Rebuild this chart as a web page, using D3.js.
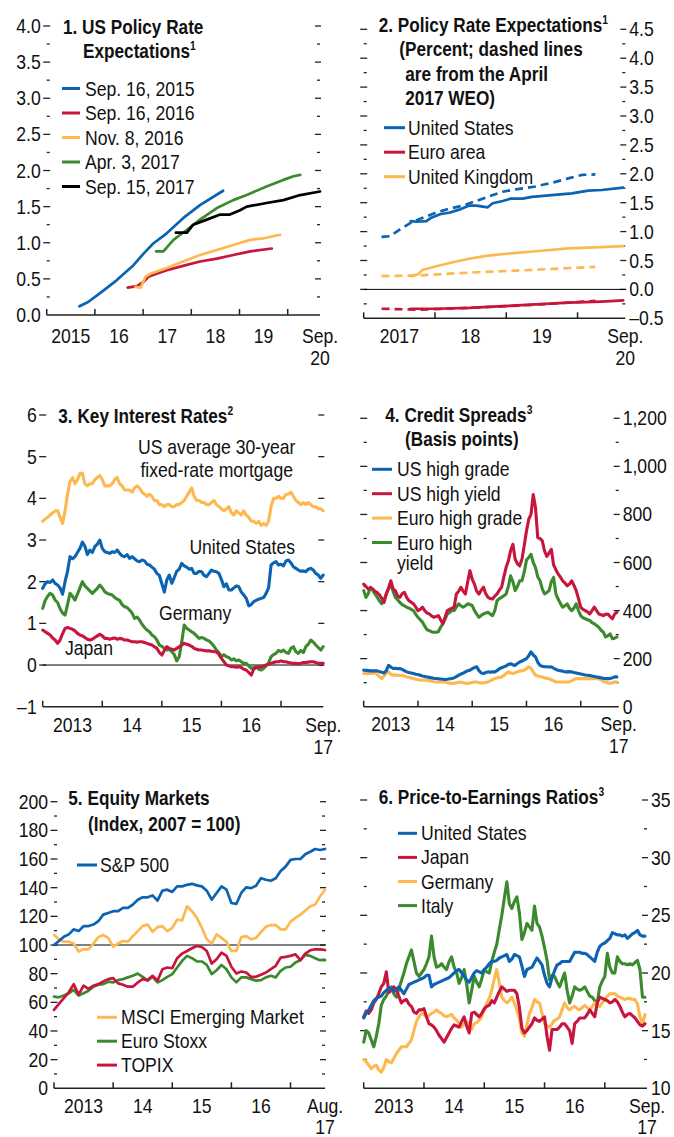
<!DOCTYPE html>
<html><head><meta charset="utf-8">
<script src="https://cdn.jsdelivr.net/npm/d3@7"></script>
<style>
body{margin:0;background:#fff;}
svg text{font-family:"Liberation Sans",Arial,sans-serif;font-size:20px;fill:#111;}
svg text.t{font-weight:bold;font-size:20px;}
</style></head><body>
<svg id="c" width="674" height="1137"></svg>
<script>
// ---------------- DATA ----------------
// Panel 1: US policy rate expectations, [year, percent]
const p1Sep2015 = [[2015.68,0.12],[2015.86,0.18],[2016.10,0.30],[2016.45,0.48],[2016.80,0.69],[2017.01,0.85],[2017.21,0.99],[2017.49,1.13],[2017.83,1.34],[2018.18,1.52],[2018.66,1.72]];
const p1Sep2016 = [[2016.68,0.38],[2016.87,0.40],[2017.01,0.46],[2017.11,0.53],[2017.28,0.57],[2017.49,0.62],[2017.83,0.68],[2018.18,0.74],[2018.53,0.78],[2018.87,0.83],[2019.22,0.88],[2019.67,0.92]];
const p1Nov2016 = [[2016.84,0.39],[2016.95,0.38],[2017.05,0.53],[2017.15,0.57],[2017.49,0.65],[2017.83,0.74],[2018.18,0.83],[2018.53,0.90],[2018.87,0.97],[2019.22,1.04],[2019.49,1.06],[2019.84,1.11]];
const p1Apr2017 = [[2017.27,0.88],[2017.42,0.88],[2017.63,1.04],[2017.91,1.18],[2018.18,1.32],[2018.53,1.48],[2018.87,1.59],[2019.15,1.66],[2019.56,1.78],[2019.91,1.87],[2020.12,1.92],[2020.26,1.94]];
const p1Sep2017 = [[2017.68,1.14],[2017.91,1.14],[2018.04,1.25],[2018.32,1.32],[2018.60,1.39],[2018.80,1.39],[2019.01,1.45],[2019.15,1.50],[2019.56,1.55],[2019.91,1.59],[2020.26,1.66],[2020.67,1.71]];
const p1Legend = ["Sep. 16, 2015","Sep. 16, 2016","Nov. 8, 2016","Apr. 3, 2017","Sep. 15, 2017"];
const p1YTicks = [0,0.5,1,1.5,2,2.5,3,3.5,4];

// Panel 2: policy rate expectations (solid = Sep 2017, dashed = April 2017 WEO)
const p2US = [[2017.66,1.18],[2017.74,1.17],[2017.88,1.18],[2017.95,1.24],[2018.07,1.30],[2018.21,1.33],[2018.34,1.38],[2018.48,1.45],[2018.58,1.45],[2018.74,1.42],[2018.81,1.49],[2018.95,1.53],[2019.06,1.57],[2019.23,1.57],[2019.36,1.60],[2019.64,1.63],[2019.92,1.66],[2020.15,1.71],[2020.34,1.72],[2020.64,1.76]];
const p2USdash = [[2017.25,0.91],[2017.37,0.92],[2017.51,1.04],[2017.67,1.16],[2017.83,1.24],[2018.02,1.33],[2018.21,1.40],[2018.39,1.45],[2018.58,1.53],[2018.76,1.61],[2018.95,1.69],[2019.13,1.73],[2019.41,1.78],[2019.69,1.86],[2019.87,1.92],[2020.06,1.98],[2020.25,1.99]];
const p2UK = [[2017.66,0.23],[2017.76,0.26],[2017.83,0.34],[2018.02,0.40],[2018.25,0.47],[2018.48,0.53],[2018.72,0.58],[2018.95,0.61],[2019.41,0.66],[2019.87,0.71],[2020.34,0.73],[2020.64,0.75]];
const p2UKdash = [[2017.25,0.23],[2017.74,0.24],[2018.48,0.29],[2019.41,0.34],[2020.25,0.39]];
const p2EA = [[2017.66,-0.335],[2018.02,-0.335],[2018.48,-0.32],[2018.95,-0.29],[2019.41,-0.26],[2019.87,-0.23],[2020.34,-0.21],[2020.64,-0.19]];
const p2EAdash = [[2017.25,-0.335],[2017.78,-0.35],[2018.48,-0.32],[2019.18,-0.28],[2019.87,-0.23],[2020.25,-0.2]];
const p2Legend = ["United States","Euro area","United Kingdom"];
const p2YTicks = [-0.5,0,0.5,1,1.5,2,2.5,3,3.5,4,4.5];

// Panel 3: key interest rates, semi-monthly from Jan 2013 (percent)
const p3Mortgage = [3.45,3.5,3.55,3.6,3.65,3.7,3.7,3.55,3.4,3.7, 4.1,4.4,4.5,4.35,4.45,4.6,4.6,4.35,4.3,4.35, 4.35,4.45,4.5,4.55,4.45,4.3,4.3,4.3,4.35,4.45, 4.5,4.35,4.3,4.2,4.2,4.2,4.15,4.25,4.3,4.25, 4.15,4.1,4.05,4.1,4.05,3.95,3.95,3.85,3.85,3.8, 3.85,3.85,3.8,3.8,3.85,3.85,3.9,3.95,4.05,4.15, 4.25,4.05,3.95,3.95,3.9,3.9,3.85,3.85,3.9,3.95, 3.85,3.8,3.75,3.7,3.75,3.8,3.65,3.6,3.7,3.65, 3.6,3.7,3.6,3.55,3.45,3.45,3.4,3.45,3.35,3.4, 3.35,3.45,3.8,4.0,4.0,4.05,4.0,4.0,4.1,4.1, 4.15,4.05,3.95,3.9,3.85,3.9,3.85,3.9,3.85,3.8, 3.8,3.75,3.75,3.7];
const p3US = [1.84,1.95,2.0,1.98,2.04,1.96,1.92,1.85,1.7,2.0, 2.25,2.6,2.55,2.6,2.7,2.8,2.95,2.85,2.65,2.76, 2.7,2.84,2.9,3.0,2.8,2.72,2.7,2.68,2.72,2.7, 2.76,2.68,2.62,2.6,2.65,2.56,2.6,2.55,2.5,2.48, 2.52,2.5,2.42,2.4,2.35,2.3,2.2,2.15,1.95,1.75, 2.04,2.16,1.96,2.1,2.25,2.3,2.44,2.38,2.35,2.3, 2.32,2.2,2.2,2.25,2.24,2.15,2.12,2.2,2.28,2.25, 2.24,2.2,2.05,1.88,1.95,1.8,1.8,1.85,1.9,1.88, 1.75,1.68,1.6,1.42,1.45,1.52,1.55,1.58,1.6,1.62, 1.72,1.85,2.4,2.45,2.48,2.4,2.42,2.38,2.5,2.52, 2.45,2.36,2.32,2.28,2.25,2.26,2.24,2.3,2.32,2.28, 2.2,2.16,2.08,2.16];
const p3Germany = [1.36,1.55,1.65,1.72,1.68,1.56,1.5,1.35,1.25,1.2, 1.45,1.72,1.65,1.56,1.7,1.85,2.0,1.9,1.84,1.78, 1.72,1.78,1.84,1.92,1.85,1.76,1.72,1.7,1.68,1.62, 1.58,1.55,1.45,1.4,1.38,1.32,1.25,1.12,1.15,1.08, 0.98,0.9,0.84,0.8,0.72,0.68,0.6,0.48,0.45,0.4, 0.36,0.38,0.32,0.25,0.1,0.2,0.55,0.96,0.88,0.84, 0.8,0.76,0.7,0.64,0.66,0.64,0.6,0.58,0.52,0.45, 0.36,0.3,0.2,0.25,0.2,0.18,0.12,0.15,0.1,0.12, 0.08,0.04,0.04,-0.02,-0.08,-0.06,-0.04,-0.1,-0.12,-0.08, -0.02,0.05,0.2,0.25,0.28,0.35,0.32,0.36,0.3,0.28, 0.4,0.44,0.32,0.28,0.35,0.3,0.44,0.5,0.6,0.55, 0.48,0.42,0.36,0.44];
const p3Japan = [0.84,0.8,0.76,0.72,0.65,0.6,0.52,0.6,0.75,0.88, 0.9,0.88,0.86,0.82,0.76,0.72,0.7,0.66,0.62,0.6, 0.62,0.66,0.7,0.74,0.7,0.64,0.64,0.62,0.64,0.65, 0.62,0.64,0.63,0.6,0.6,0.58,0.56,0.56,0.55,0.56, 0.56,0.54,0.52,0.5,0.48,0.44,0.4,0.3,0.24,0.35, 0.44,0.4,0.38,0.36,0.4,0.44,0.48,0.52,0.5,0.48, 0.45,0.4,0.38,0.36,0.36,0.35,0.34,0.34,0.33,0.32, 0.32,0.25,0.16,0.08,0.0,-0.02,-0.04,-0.04,-0.05,-0.04, -0.06,-0.1,-0.12,-0.18,-0.24,-0.1,-0.06,-0.04,-0.04,-0.02, 0.0,0.02,0.04,0.06,0.08,0.08,0.1,0.08,0.08,0.06, 0.05,0.04,0.04,0.03,0.04,0.06,0.06,0.07,0.08,0.08, 0.06,0.04,0.04,0.04];
const p3YTicks = [-1,0,1,2,3,4,5,6];

// Panel 4: credit spreads, semi-monthly from Jan 2013 (basis points)
const p4USHY = [510,500,490,495,490,480,475,465,450,434, 469,495,524,490,483,460,455,470,476,455, 441,435,428,415,400,405,414,400,390,386, 378,372,375,379,362,345,372,400,405,410, 414,469,480,497,480,469,520,566,530,510, 480,469,485,497,470,455,450,448,460,469, 485,497,540,580,607,650,676,614,595,586, 614,670,731,780,800,883,828,703,700,690, 648,625,640,655,590,570,552,540,524,515, 503,510,524,505,483,450,414,405,400,395, 386,400,414,400,386,383,379,385,386,375, 366,385,393];
const p4EuroHY = [483,455,470,497,485,469,455,440,428,445, 469,490,510,480,455,445,434,425,420,414, 410,405,400,385,372,362,352,335,320,317, 312,310,310,312,330,345,365,386,392,400, 400,415,428,420,414,420,428,425,421,400, 385,372,380,386,390,393,385,379,400,441, 450,455,462,469,500,545,520,483,500,524, 524,560,610,621,634,600,579,540,524,490, 469,475,483,520,538,470,448,430,414,420, 428,410,400,410,428,400,379,370,366,362, 359,350,345,338,330,318,310,290,295,303, 283,285,290];
const p4USHG = [152,151,150,149,149,149,149,146,143,140, 150,172,165,159,160,158,159,155,150,145, 142,140,138,135,134,131,128,126,124,122, 120,118,117,116,115,114,113,114,116,117, 120,125,131,136,140,145,150,152,158,163, 166,150,140,138,142,145,143,145,145,150, 158,162,166,170,176,179,174,172,180,186, 190,195,200,212,228,215,207,185,172,168, 166,166,165,166,160,155,152,150,148,145, 145,146,145,142,140,138,136,134,132,131, 130,128,126,124,122,120,118,117,117,117, 120,124,124];
const p4EuroHG = [138,138,137,138,139,141,135,125,117,128, 140,145,135,131,132,131,130,131,128,124, 122,119,117,114,112,110,110,111,110,108, 106,104,103,103,104,103,103,100,98,97, 98,100,102,103,100,98,97,99,101,103, 103,100,99,99,101,103,108,113,117,120, 122,124,130,138,145,140,138,141,145,148, 150,152,158,166,160,145,131,128,126,124, 120,118,117,112,108,103,103,103,103,103, 103,103,108,113,117,117,117,117,117,117, 117,117,117,117,116,112,105,103,99,97, 100,103,103];
const p4Legend = ["US high grade","US high yield","Euro high grade","Euro high"];
const p4YTicks = [0,200,400,600,800,1000,1200];

// Panel 5: equity markets, monthly from Jan 2013 (index, 2007 = 100)
const p5SP500 = [100,102.8,105.8,107.4,110.9,109.7,113.2,113.2,114.3,116.6,121.2,122.4,123.6,123.6,125.9,125.9,128.2,131.6,133.3,133.3,134.6,131,137.9,138.6,137,140.9,140.9,142,142.7,141.6,140.9,137.9,131.6,136.3,140.9,138.6,129.3,128.6,136.3,140.2,139.7,141.3,146.6,145.5,144.8,146.6,151.7,154.7,159.4,160,160,163.3,165.1,167,166.3,167];
const p5MSCI = [107,104,102.3,102.3,101,95.4,97,97,101,105.5,107,105,98.8,101,102.8,102.3,106.2,109.7,113.2,114.3,109.2,112.5,113.2,109.7,112,117.8,117.1,127,123.6,118.9,112,104,101,107.4,105,102.3,95.8,95.8,105.5,106.2,104,105,109,112.7,113.9,113.9,110.9,110.9,116.2,118.9,121.2,124,127,128.2,134,138.6];
const p5EuroStoxx = [64,63.5,64.7,66.3,68.6,64.7,66.3,68.1,70.9,72.3,72.7,74.4,73.9,75.5,76.2,77.4,78.5,80.1,77.8,75.1,77.8,73.9,75.5,77.8,79.7,84.3,88.9,92.4,90.8,88.5,88.5,86.1,79.7,82.4,86.1,83.1,77.4,73.9,77.4,77.4,76.2,75.1,75.5,77.4,78.5,77.4,82,84.3,84.8,87.8,89.4,93.1,92.4,90.8,89.4,89.4];
const p5TOPIX = [54.7,58.9,63,67,72.7,65.4,71.6,69.3,71.6,72.7,74.6,76.2,76.9,73.2,72.3,70.9,70.9,73.9,76.2,75.5,78.5,75.1,83.1,84.3,83.8,90.8,94,95.8,97.7,99.3,98.6,95.8,87.1,90.1,94.7,92.4,84.8,80.1,81.5,80.8,77.8,77.8,79.2,80.8,83.1,85.5,91.2,91.7,92.4,93.5,89.4,94,96.3,97,97,96.5];
const p5YTicks = [0,20,40,60,80,100,120,140,160,180,200];

// Panel 6: price-to-earnings ratios, semi-monthly from Jan 2013
const p6US = [16.1,16.5,16.8,17.2,17.6,17.8,17.9,18.0,18.3,18.5, 18.7,18.6,18.4,18.6,18.8,18.5,18.2,18.6,19.0,19.1, 19.2,19.3,19.4,19.5,19.6,19.8,19.8,18.8,19.0,19.1, 19.2,19.3,19.4,19.5,19.6,19.8,20.0,20.2,20.3,20.0, 19.7,19.4,19.2,19.6,20.0,20.2,20.1,20.0,20.3,20.5, 20.8,21.0,21.0,21.1,21.3,21.4,21.5,21.6,21.0,21.2, 21.6,21.5,21.4,20.6,19.7,20.3,20.4,20.5,20.9,21.3, 21.0,20.7,19.8,19.1,18.8,19.6,20.2,20.7,20.8,21.0, 21.0,21.0,21.0,21.4,21.8,21.8,21.8,21.7,21.7,21.6, 21.4,21.2,21.0,21.8,22.3,22.5,22.6,22.8,23.0,23.5, 23.4,23.3,23.3,23.2,23.3,23.0,23.2,23.4,23.5,23.7, 23.3,23.2,23.2];
const p6Japan = [16.2,16.7,16.5,16.8,17.4,17.7,18.2,18.8,19.1,20.1, 18.3,18.5,18.8,18.5,18.0,17.4,17.6,17.7,17.3,17.1, 16.6,16.5,16.8,16.8,16.9,16.2,15.6,15.5,15.3,15.0, 14.6,14.3,14.0,14.4,14.8,15.2,15.5,15.4,15.3,15.8, 16.2,15.4,14.8,16.5,16.6,16.4,16.2,16.5,16.9,17.1, 17.2,17.6,17.4,17.9,18.4,18.8,18.6,18.4,18.5,18.5, 18.5,18.2,17.0,15.2,14.8,15.0,15.3,15.6,16.1,15.9, 15.8,16.0,16.2,14.5,13.3,15.1,15.1,15.1,15.3,15.6, 15.6,15.3,15.0,13.9,15.6,15.8,16.1,16.1,16.1,16.4, 16.8,16.5,16.2,17.4,17.9,17.8,17.7,17.6,17.4,17.5, 17.7,17.5,17.1,16.6,16.2,16.4,16.5,16.3,16.1,15.8, 15.5,15.4,15.6];
const p6Germany = [12.5,12.3,12.0,11.7,11.9,12.0,11.6,11.4,11.8,12.5, 12.3,12.2,12.6,13.0,13.3,13.6,13.6,13.6,13.9,14.2, 15.0,15.8,16.2,16.5,16.4,16.2,16.3,16.5,16.6,16.8, 16.6,16.5,16.3,16.2,16.3,16.4,16.1,15.9,15.6,15.3, 15.6,15.8,15.4,15.1,15.6,15.7,15.9,16.2,16.8,17.4, 17.8,18.5,19.5,20.3,19.1,17.9,17.6,17.4,17.6,17.9, 17.4,16.8,16.0,14.8,14.5,15.5,16.5,17.0,17.7,17.5, 17.4,16.5,15.6,15.4,15.3,15.6,15.9,16.0,16.2,16.8, 17.4,17.0,16.8,17.0,17.1,16.9,16.8,17.0,17.2,17.0, 16.8,17.1,17.4,17.2,17.1,17.4,17.7,18.0,18.2,18.2, 18.2,18.0,17.9,17.8,17.7,17.8,17.8,17.7,17.7,17.3, 16.2,15.6,16.4];
const p6Italy = [14.0,15.0,14.8,14.2,13.6,14.5,15.6,17.2,17.7,18.0, 18.5,18.8,18.2,17.9,18.6,19.3,20.0,20.8,21.4,22.0, 21.0,20.0,19.7,20.0,20.3,20.8,21.4,23.2,21.4,20.5, 20.6,20.8,20.5,20.3,21.0,21.4,20.5,20.0,19.1,19.6, 20.3,19.0,17.4,18.5,19.7,19.2,18.8,19.5,20.3,20.1, 20.0,21.0,21.8,22.5,23.8,25.0,26.5,27.9,26.0,25.6, 26.2,26.6,25.2,22.9,23.5,24.3,24.0,23.7,25.8,24.3, 24.0,23.2,22.2,21.1,19.4,19.8,19.7,19.2,18.8,19.4, 20.0,18.5,17.4,18.0,18.8,18.6,18.5,18.6,18.8,18.4, 18.0,17.9,17.6,17.4,18.8,19.3,19.7,21.7,20.5,20.0, 20.0,21.4,21.0,20.8,20.8,20.7,20.8,20.7,20.9,21.1, 20.3,17.9,17.9];
const p6Legend = ["United States","Japan","Germany","Italy"];
const p6YTicks = [10,15,20,25,30,35];

// ---------------- DRAWING ----------------
const C = {blue:"#0b63b2", red:"#c8153d", yellow:"#fdb94f", green:"#3b8a2e", black:"#000"};
const AX = "#222";
const SX = 0.88, SXB = 0.86; // condensed look
const svg = d3.select("#c");
const semi = vals => vals.map((v,i)=>[2013 + i*0.5/12, v]);
const monthly = vals => vals.map((v,i)=>[2013 + i/12, v]);
const dashFmt = f => v => f(v).replace("\u2212","\u2013");

function T(parent, x, y, s, anchor, bold){
  const t = parent.append("text")
    .attr("transform",`translate(${x},${y}) scale(${bold?SXB:SX},1)`)
    .attr("text-anchor",anchor||"start").text(s);
  if (bold) t.attr("class","t");
  return t;
}

function panel(p){
  const g = svg.append("g");
  const x = d3.scaleLinear().domain(p.xDomain).range(p.xRange);
  const y = d3.scaleLinear().domain(p.yDomain).range(p.yRange);
  const [x0,x1] = p.xRange, yb = p.yRange[0];
  const ln = (a,b,c,d,w)=>g.append("line").attr("x1",a).attr("y1",b).attr("x2",c).attr("y2",d).attr("stroke",AX).attr("stroke-width",w||1.3);
  p.yTicks.forEach(v=>{
    const yy = y(v);
    if (Math.abs(yy-yb) > 1){
      ln(x0-3.5,yy,x0+3.5,yy);
      ln(x1-5,yy,x1+1,yy);
    }
    if (p.labelSide==="left") T(g,x0-6,yy+7,p.fmt(v),"end");
    else T(g,x1+4,yy+7,p.fmt(v),"start");
  });
  (p.yMinor||[]).forEach(v=>{
    const yy = y(v);
    ln(x0,yy,x0+3,yy); ln(x1-3,yy,x1,yy);
  });
  if (p.refLine!==undefined) g.append("line").attr("x1",x0).attr("x2",x1).attr("y1",y(p.refLine)).attr("y2",y(p.refLine)).attr("stroke","#000").attr("stroke-width",1);
  ln(x0,yb,x1,yb,1.6);
  p.yearTicks.forEach(yr=>ln(x(yr),yb,x(yr),yb-6,1.5));
  p.yearLabels.forEach(([yr,txt])=>T(g,x(yr),yb+p.lblOff,txt,"middle"));
  T(g,x1,yb+p.lblOff,p.endLabel[0],"middle");
  T(g,x1,Math.min(yb+p.lblOff+22,1134),p.endLabel[1],"middle");
  return {g,x,y};
}
function series(P, data, color, opts){
  opts = opts||{};
  const line = d3.line().x(d=>P.x(d[0])).y(d=>P.y(d[1]));
  P.g.append("path").datum(data).attr("d",line).attr("fill","none").attr("stroke",color)
    .attr("stroke-width",opts.w||2.7).attr("stroke-linejoin","round").attr("stroke-linecap",opts.dash?"butt":"round")
    .attr("stroke-dasharray",opts.dash||null);
}
function title(lines){
  lines.forEach(([x,y,txt,s])=>{
    const t = T(svg,x,y,txt,"start",true);
    if (s) t.append("tspan").attr("dy",-8).attr("font-size","12px").text(s);
  });
}
function legend(items, sx, tx, y0, dy){
  items.forEach(([txt,color],i)=>{
    const yy = y0 + i*dy;
    svg.append("line").attr("x1",sx[0]).attr("x2",sx[1]).attr("y1",yy).attr("y2",yy).attr("stroke",color).attr("stroke-width",3);
    T(svg,tx,yy+7,txt);
  });
}
const NW = {w:3.1}; // daily (noisy) series drawn a bit heavier

// ---- Panel 1
const P1 = panel({xDomain:[2015,2020.67], xRange:[46.7,320], yDomain:[0,4], yRange:[315,26],
  yTicks:p1YTicks, yMinor:[0.25,0.75,1.25,1.75,2.25,2.75,3.25,3.75], fmt:d3.format(".1f"), labelSide:"left",
  yearTicks:[2015,2016,2017,2018,2019,2020], yearLabels:[[2015.5,"2015"],[2016.5,"16"],[2017.5,"17"],[2018.5,"18"],[2019.5,"19"]],
  endLabel:["Sep.","20"], lblOff:28});
series(P1,p1Sep2015,C.blue); series(P1,p1Sep2016,C.red); series(P1,p1Nov2016,C.yellow);
series(P1,p1Apr2017,C.green); series(P1,p1Sep2017,C.black);
title([[63,33.5,"1. US Policy Rate"],[83,57.5,"Expectations","1"]]);
legend(p1Legend.map((t,i)=>[t,[C.blue,C.red,C.yellow,C.green,C.black][i]]),[62,80],85,88.5,24.5);

// ---- Panel 2
const P2 = panel({xDomain:[2017,2020.67], xRange:[363.7,625.3], yDomain:[-0.5,4.5], yRange:[318.3,29.3],
  yTicks:p2YTicks, yMinor:[-0.25,0.25,0.75,1.25,1.75,2.25,2.75,3.25,3.75,4.25], fmt:dashFmt(d3.format(".1f")), labelSide:"right",
  refLine:0, yearTicks:[2017,2018,2019,2020], yearLabels:[[2017.5,"2017"],[2018.5,"18"],[2019.5,"19"]],
  endLabel:["Sep.","20"], lblOff:25});
series(P2,p2USdash,C.blue,{dash:"8,5"}); series(P2,p2UKdash,C.yellow,{dash:"8,5"}); series(P2,p2EAdash,C.red,{dash:"8,5"});
series(P2,p2US,C.blue); series(P2,p2UK,C.yellow); series(P2,p2EA,C.red);
title([[378.7,31.5,"2. Policy Rate Expectations","1"],[399.3,56,"(Percent; dashed lines"],[405.3,80.5,"are from the April"],[405.3,105,"2017 WEO)"]]);
legend(p2Legend.map((t,i)=>[t,[C.blue,C.red,C.yellow][i]]),[384,405],408,127.7,24.5);

// ---- Panel 3
const P3 = panel({xDomain:[2013,2017.71], xRange:[42.7,323.3], yDomain:[-1,6], yRange:[706.7,415],
  yTicks:p3YTicks, fmt:dashFmt(d3.format("d")), labelSide:"left", refLine:0,
  yearTicks:[2013,2014,2015,2016,2017], yearLabels:[[2013.5,"2013"],[2014.5,"14"],[2015.5,"15"],[2016.5,"16"]],
  endLabel:["Sep.","17"], lblOff:25});
series(P3,semi(p3Mortgage),C.yellow,NW); series(P3,semi(p3US),C.blue,NW);
series(P3,semi(p3Germany),C.green,NW); series(P3,semi(p3Japan),C.red,NW);
title([[58.3,423.3,"3. Key Interest Rates","2"]]);
T(svg,216.7,454,"US average 30-year","middle"); T(svg,216.7,477,"fixed-rate mortgage","middle");
T(svg,295,553.5,"United States","end"); T(svg,159,620,"Germany"); T(svg,65,655,"Japan");

// ---- Panel 4
const P4 = panel({xDomain:[2013,2017.7], xRange:[363.7,618.7], yDomain:[0,1200], yRange:[706.7,418.3],
  yTicks:p4YTicks, yMinor:[100,300,500,700,900,1100], fmt:d3.format(","), labelSide:"right",
  yearTicks:[2013,2014,2015,2016,2017], yearLabels:[[2013.5,"2013"],[2014.5,"14"],[2015.5,"15"],[2016.5,"16"]],
  endLabel:["Sep.","17"], lblOff:24});
series(P4,semi(p4EuroHY),C.green,NW); series(P4,semi(p4USHY),C.red,NW);
series(P4,semi(p4EuroHG),C.yellow,NW); series(P4,semi(p4USHG),C.blue,NW);
title([[385.3,421.7,"4. Credit Spreads","3"],[405,446,"(Basis points)"]]);
legend(p4Legend.map((t,i)=>[t,[C.blue,C.red,C.yellow,C.green][i]]),[372,392],397,469.3,24.4);
T(svg,397,570,"yield");

// ---- Panel 5
const P5 = panel({xDomain:[2013,2017.583], xRange:[54,325], yDomain:[0,200], yRange:[1088.3,801.7],
  yTicks:p5YTicks, yMinor:[10,30,50,70,90,110,130,150,170,190], fmt:d3.format("d"), labelSide:"left", refLine:100,
  yearTicks:[2013,2014,2015,2016,2017], yearLabels:[[2013.5,"2013"],[2014.5,"14"],[2015.5,"15"],[2016.5,"16"]],
  endLabel:["Aug.","17"], lblOff:25});
series(P5,monthly(p5MSCI),C.yellow); series(P5,monthly(p5EuroStoxx),C.green);
series(P5,monthly(p5TOPIX),C.red); series(P5,monthly(p5SP500),C.blue);
title([[68.3,805,"5. Equity Markets"],[88,831,"(Index, 2007 = 100)"]]);
legend([["S&P 500",C.blue]],[77,97],100,865,24);
legend([["MSCI Emerging Market",C.yellow],["Euro Stoxx",C.green],["TOPIX",C.red]],[97,117],121,1017.3,23.9);

// ---- Panel 6
const P6 = panel({xDomain:[2013,2017.7], xRange:[363.7,647], yDomain:[10,35], yRange:[1088.3,800],
  yTicks:p6YTicks, yMinor:[12.5,17.5,22.5,27.5,32.5], fmt:d3.format("d"), labelSide:"right",
  yearTicks:[2013,2014,2015,2016,2017], yearLabels:[[2013.5,"2013"],[2014.5,"14"],[2015.5,"15"],[2016.5,"16"]],
  endLabel:["Sep.","17"], lblOff:24.5});
series(P6,semi(p6Italy),C.green,NW); series(P6,semi(p6Germany),C.yellow,NW);
series(P6,semi(p6Japan),C.red,NW); series(P6,semi(p6US),C.blue,NW);
title([[378.7,804.3,"6. Price-to-Earnings Ratios","3"]]);
legend(p6Legend.map((t,i)=>[t,[C.blue,C.red,C.yellow,C.green][i]]),[398,417],421,833.3,24.1);
</script>
</body></html>
